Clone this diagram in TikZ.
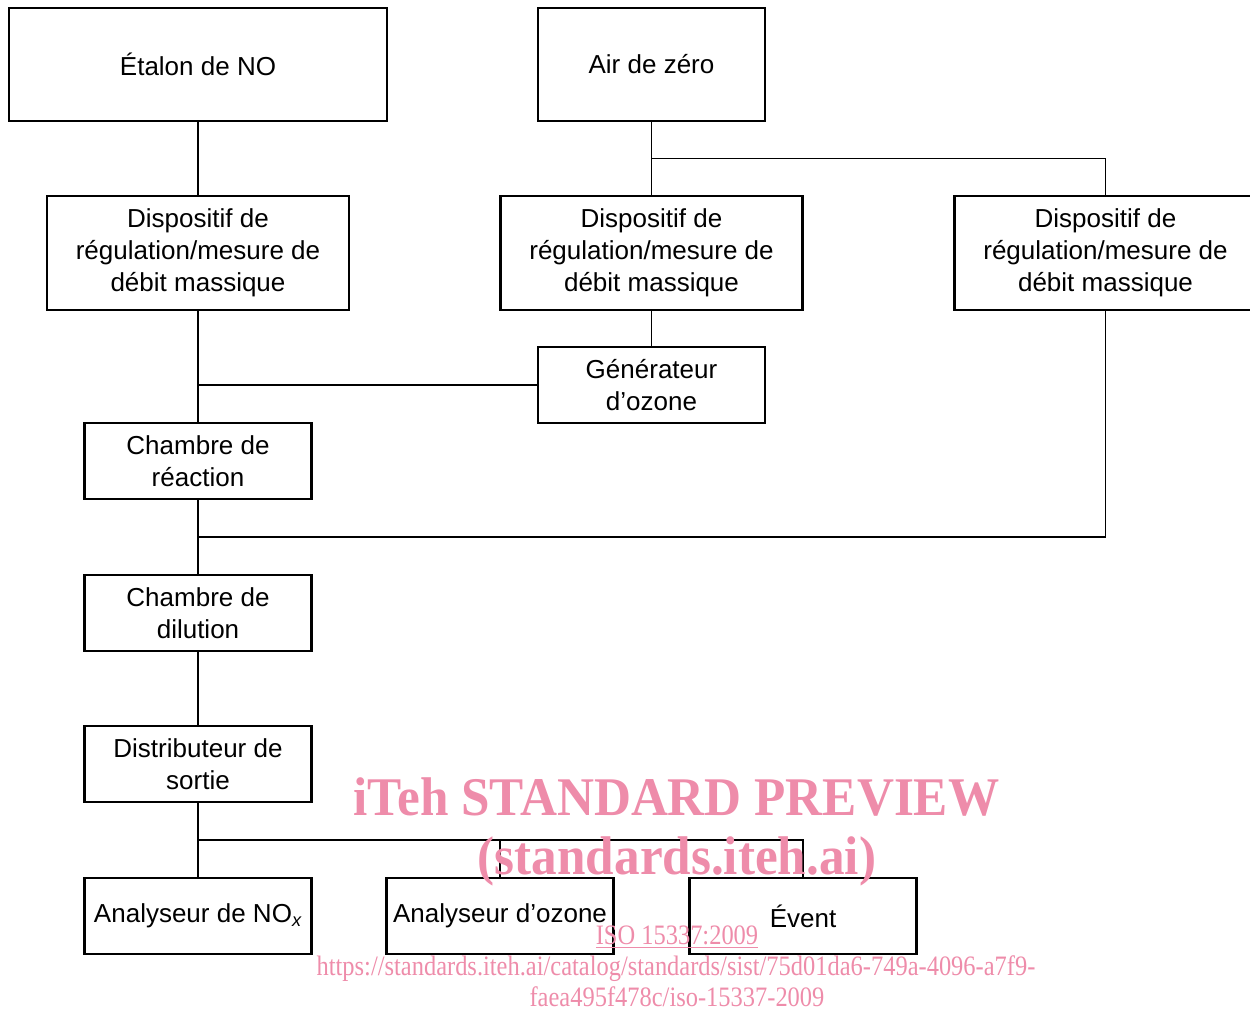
\documentclass[tikz,border=0pt]{standalone}
\usepackage{fontspec}
\setmainfont{Liberation Sans}
\newfontfamily\wmfont{Liberation Serif}
\usetikzlibrary{positioning,calc}
\definecolor{wmpink}{RGB}{238,140,170}
\tikzstyle{block} = [rectangle, draw, line width=1.3pt, align=center, outer sep=0pt,
    inner sep=2pt, minimum width=4.54cm, minimum height=1.52cm]
\tikzstyle{wide} = [block, minimum width=6.04cm, minimum height=2.28cm]
\tikzstyle{tall} = [block, minimum height=2.26cm]
\tikzstyle{pipe} = [line width=0.6pt]
\tikzstyle{wmbig} = [text=wmpink, inner sep=0pt, xscale=0.94, transform shape,
    font=\wmfont\bfseries\fontsize{31}{31}\selectfont]
\tikzstyle{wmsmall} = [text=wmpink, inner sep=0pt, xscale=0.87, transform shape,
    font=\wmfont\fontsize{16}{16}\selectfont]

\begin{document}
\begin{tikzpicture}[node distance=1.5cm, font=\fontsize{14.8}{18.2}\selectfont]
  \useasboundingbox (0,0) rectangle (25,-20.24);

  \node[tall, minimum width=7.56cm] (etalon) at (3.96,-1.29) {Étalon de NO};
  \node[tall]  (air)   [right=3.02cm of etalon] {Air de zéro};
  \node[wide]  (mfc1)  [below=of etalon] {Dispositif de\\régulation/mesure de\\débit massique};
  \node[wide]  (mfc2)  [below=of air]    {Dispositif de\\régulation/mesure de\\débit massique};
  \node[wide]  (mfc3)  [right=3.04cm of mfc2] {Dispositif de\\régulation/mesure de\\débit massique};
  \node[block] (gen)   [below=0.74cm of mfc2] {Générateur\\d’ozone};
  \node[block] (reac)  [below=2.26cm of mfc1] {Chambre de\\réaction};
  \node[block] (dil)   [below=1.52cm of reac] {Chambre de\\dilution};
  \node[block] (dist)  [below=of dil]  {Distributeur de\\sortie};
  \node[block] (nox)   [below=1.52cm of dist] {Analyseur de NO\textsubscript{\itshape x}};
  \node[block] (ozan)  [right=1.5cm of nox]  {Analyseur d’ozone};
  \node[block] (event) [right=1.52cm of ozan] {Évent};

  % gas lines
  \coordinate (split1) at ($(air.south)!0.5!(mfc2.north)$);
  \coordinate (join3)  at ($(reac.south)!0.5!(dil.north)$);
  \coordinate (split2) at ($(dist.south)!0.5!(nox.north)$);
  \draw[pipe] (etalon) -- (mfc1);
  \draw[pipe] (air.south) -- (air.south |- mfc2.north);
  \draw[pipe] (split1) -| (mfc3.north);
  \draw[pipe] (mfc2) -- (gen);
  \draw[pipe] (mfc1) -- (reac);
  \draw[pipe] (gen.west) -- (gen.west -| mfc1.south);
  \draw[pipe] (reac) -- (dil);
  \draw[pipe] (mfc3.south) |- (join3);
  \draw[pipe] (dil) -- (dist);
  \draw[pipe] (dist) -- (nox);
  \draw[pipe] (split2) -| (event.north);
  \draw[pipe] (split2 -| ozan.north) -- (ozan.north);

  % watermark
  \node[wmbig]   (wmtitle) at (13.53,-15.95) {iTeh STANDARD PREVIEW};
  \node[wmbig]   (wmsite)  at (13.54,-17.22) {(standards.iteh.ai)};
  \node[wmsmall] (wmiso)   at (13.54,-18.74) {\underline{ISO 15337:2009}};
  \node[wmsmall] (wmurl1)  at (13.52,-19.37) {https://standards.iteh.ai/catalog/standards/sist/75d01da6-749a-4096-a7f9-};
  \node[wmsmall] (wmurl2)  at (13.54,-19.93) {faea495f478c/iso-15337-2009};
\end{tikzpicture}
\end{document}
